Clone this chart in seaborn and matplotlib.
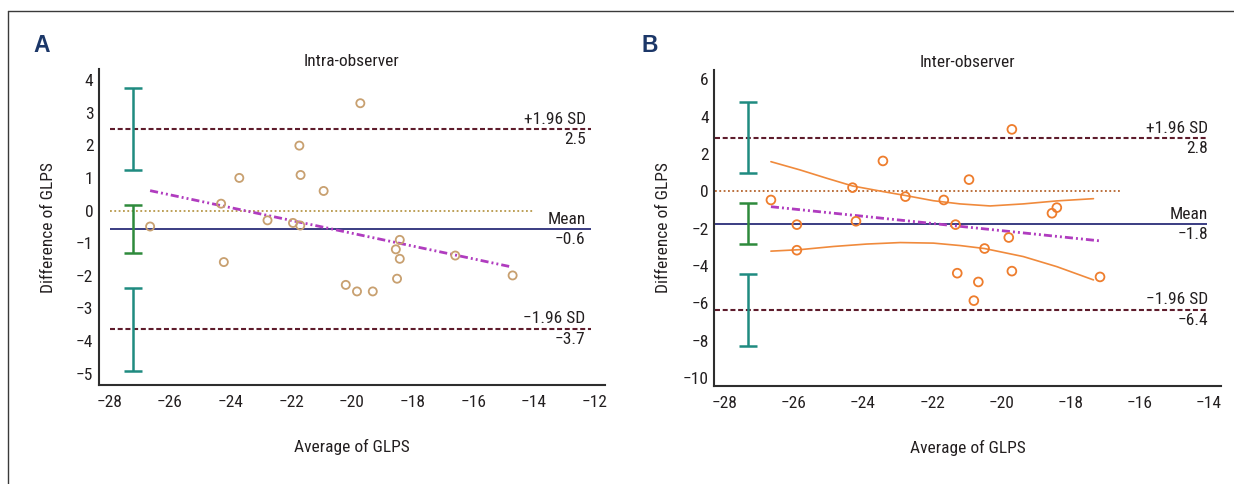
import matplotlib
matplotlib.use("Agg")
import matplotlib.pyplot as plt
import seaborn as sns
from matplotlib import font_manager as fm
from matplotlib.ticker import MultipleLocator
from matplotlib.lines import Line2D

# ---------------- data: panel A (intra-observer) ----------------
a_avg = [-26.65, -24.31, -23.71, -24.22, -22.78, -21.73, -21.69, -21.94, -21.70, -20.93,
         -20.20, -19.83, -19.72, -19.31, -18.42, -18.55, -18.42, -18.51, -16.59, -14.70]
a_diff = [-0.49, 0.21, 1.00, -1.58, -0.30, 1.99, 1.09, -0.38, -0.46, 0.60,
          -2.28, -2.48, 3.29, -2.48, -0.90, -1.19, -1.48, -2.09, -1.38, -1.99]
a_mean, a_upper, a_lower = -0.57, 2.49, -3.63
a_texts = ["+1.96 SD", "2.5", "Mean", "\u22120.6", "\u22121.96 SD", "\u22123.7"]
a_reg_x = [-26.65, -14.73]
a_reg_y = [0.61, -1.73]
a_ci_x = -27.2
a_ci_lo = [1.23, -1.29, -4.92]
a_ci_hi = [3.77, 0.17, -2.37]

# ---------------- data: panel B (inter-observer) ----------------
b_avg = [-26.66, -25.91, -25.91, -24.30, -24.20, -23.42, -22.77, -21.66, -21.32, -21.27,
         -20.93, -20.48, -20.66, -20.79, -19.78, -19.69, -19.69, -18.39, -18.53, -17.14]
b_diff = [-0.46, -1.78, -3.15, 0.20, -1.60, 1.63, -0.28, -0.46, -1.78, -4.38,
          0.63, -3.06, -4.85, -5.85, -2.47, -4.27, 3.32, -0.87, -1.17, -4.58]
b_mean, b_upper, b_lower = -1.76, 2.85, -6.35
b_texts = ["+1.96 SD", "2.8", "Mean", "\u22121.8", "\u22121.96 SD", "\u22126.4"]
b_reg_x = [-26.66, -17.14]
b_reg_y = [-0.82, -2.65]
b_cu_x = [-26.66, -25.82, -25.04, -24.30, -23.42, -22.77, -21.96, -21.19, -20.32, -19.36, -18.39, -17.33]
b_cu_y = [1.59, 1.15, 0.70, 0.29, -0.01, -0.22, -0.50, -0.67, -0.78, -0.67, -0.51, -0.39]
b_cl_x = [-26.66, -25.82, -24.85, -23.89, -22.92, -21.96, -21.19, -20.48, -19.36, -18.39, -17.33]
b_cl_y = [-3.20, -3.12, -2.95, -2.82, -2.74, -2.77, -2.90, -3.06, -3.49, -4.03, -4.74]
b_ci_x = -27.31
b_ci_lo = [1.00, -2.81, -8.27]
b_ci_hi = [4.80, -0.63, -4.45]

titles = ["Intra-observer", "Inter-observer"]
letters = ["A", "B"]
xlabel = "Average of GLPS"
ylabel = "Difference of GLPS"

# ---------------- fonts ----------------
sns.set_style("white")


def pick_font():
    cond = ("condensed", "semi-condensed", "extra-condensed", "ultra-condensed")
    prefs = ["Liberation Sans Narrow", "Roboto Condensed", "Open Sans Condensed",
             "Noto Sans", "DejaVu Sans", "Open Sans", "Roboto", "Lato", "Inter"]
    entries = fm.fontManager.ttflist
    for p in prefs:
        for e in entries:
            if e.name == p and (e.stretch in cond or "Narrow" in p or "Condensed" in p):
                return p, e.stretch, True
    return "Liberation Sans", "normal", False


fam, stretch, is_cond = pick_font()
plt.rcParams["font.family"] = [fam, "DejaVu Sans"]
plt.rcParams["font.stretch"] = stretch
fs = 12.5 if is_cond else 11
plt.rcParams["axes.unicode_minus"] = True

TXT = "#231f20"
AX = "#2e2e2e"

fig = plt.figure(figsize=(12.34, 4.84), dpi=100)
axA = fig.add_axes([0.0801, 0.2045, 0.4098, 0.6523])
axB = fig.add_axes([0.5788, 0.2025, 0.4104, 0.6529])

# figure frame (top and left edges)
fig.add_artist(Line2D([8 / 1234, 1.0], [1 - 11 / 484, 1 - 11 / 484], transform=fig.transFigure,
                      color="#3a3a3a", lw=1.0))
fig.add_artist(Line2D([8 / 1234, 8 / 1234], [0.0, 1 - 11 / 484], transform=fig.transFigure,
                      color="#3a3a3a", lw=1.0))

DASH_C = "#5e1c2c"
MEAN_C = "#2b2d78"
REG_C = "#b03cbf"
TEAL = "#1f8b80"
GREEN = "#2e8a3c"
REG_LS = (0, (2.9, 1.1, 0.7, 1.1, 0.7, 1.1))
DASH_LS = (0, (2.4, 1.3))
DOT_LS = (0, (1, 1.4))


def style_axes(ax, xlim, ylim, ymaj, ymin):
    ax.set_xlim(*xlim)
    ax.set_ylim(*ylim)
    ax.xaxis.set_major_locator(MultipleLocator(2))
    ax.xaxis.set_minor_locator(MultipleLocator(1))
    ax.yaxis.set_major_locator(MultipleLocator(ymaj))
    ax.yaxis.set_minor_locator(MultipleLocator(ymin))
    for s in ["top", "right"]:
        ax.spines[s].set_visible(False)
    for s in ["left", "bottom"]:
        ax.spines[s].set_linewidth(1.5)
        ax.spines[s].set_color(AX)
    ax.tick_params(which="major", direction="in", length=6.8, width=1.1, color=AX,
                   labelsize=fs, labelcolor=TXT)
    ax.tick_params(which="minor", direction="in", length=3.6, width=1.0, color=AX)
    ax.tick_params(axis="x", which="major", pad=7)
    ax.tick_params(axis="y", which="major", pad=4)
    ax.set_xlabel(xlabel, fontsize=fs, color=TXT, va="top")
    ax.set_ylabel(ylabel, fontsize=fs, color=TXT)
    ax.xaxis.set_label_coords(0.5, -0.172)
    ax.yaxis.set_label_coords(-0.085, 0.5)
    ax.set_facecolor("white")


def right_labels(ax, x, ys, texts):
    for y, (top, bot) in zip(ys, [(texts[0], texts[1]), (texts[2], texts[3]), (texts[4], texts[5])]):
        ax.annotate(top, (x, y), xytext=(0, 1.8), textcoords="offset points",
                    ha="right", va="bottom", fontsize=fs, color=TXT)
        ax.annotate(bot, (x, y), xytext=(0, -2.2), textcoords="offset points",
                    ha="right", va="top", fontsize=fs, color=TXT)


def ci_bars(ax, x, lo, hi):
    for l, h, c in zip(lo, hi, [TEAL, GREEN, TEAL]):
        ax.errorbar([x], [(l + h) / 2], yerr=[[(h - l) / 2], [(h - l) / 2]], fmt="none",
                    ecolor=c, elinewidth=1.8, capsize=6.5, capthick=1.8, zorder=3)


# ---------------- panel A ----------------
ax = axA
ax.hlines([a_upper, a_lower], -27.97, -12.12, colors=DASH_C, linestyles=DASH_LS, lw=1.5, zorder=2)
ax.hlines([a_mean], -27.97, -12.12, colors=MEAN_C, lw=1.3, zorder=2)
ax.hlines([0], -27.97, -14.0, colors="#b8984a", linestyles=DOT_LS, lw=1.3, zorder=2)
sns.lineplot(x=a_reg_x, y=a_reg_y, ax=ax, color=REG_C, lw=2.0, estimator=None,
             linestyle=REG_LS, zorder=4)
ci_bars(ax, a_ci_x, a_ci_lo, a_ci_hi)
sns.scatterplot(x=a_avg, y=a_diff, ax=ax, s=34, marker="o", color="#c8a070",
                facecolor="none", edgecolor="#c8a070", linewidth=1.3, zorder=5)
right_labels(ax, -12.29, [a_upper, a_mean, a_lower], a_texts)
style_axes(ax, (-28.34, -11.67), (-5.35, 4.33), 1, 0.5)

# ---------------- panel B ----------------
ax = axB
ax.hlines([b_upper, b_lower], -28.27, -14.05, colors=DASH_C, linestyles=DASH_LS, lw=1.5, zorder=2)
ax.hlines([b_mean], -28.27, -14.05, colors=MEAN_C, lw=1.3, zorder=2)
ax.hlines([0], -28.27, -16.56, colors="#b5652e", linestyles=DOT_LS, lw=1.3, zorder=2)
sns.lineplot(x=b_cu_x, y=b_cu_y, ax=ax, color="#f08a3c", lw=1.2, estimator=None, zorder=3)
sns.lineplot(x=b_cl_x, y=b_cl_y, ax=ax, color="#f08a3c", lw=1.2, estimator=None, zorder=3)
sns.lineplot(x=b_reg_x, y=b_reg_y, ax=ax, color=REG_C, lw=2.0, estimator=None,
             linestyle=REG_LS, zorder=4)
ci_bars(ax, b_ci_x, b_ci_lo, b_ci_hi)
sns.scatterplot(x=b_avg, y=b_diff, ax=ax, s=40, marker="o", color="#ee7d2d",
                facecolor="none", edgecolor="#ee7d2d", linewidth=1.3, zorder=5)
right_labels(ax, -14.01, [b_upper, b_mean, b_lower], b_texts)
style_axes(ax, (-28.3, -13.65), (-10.42, 6.5), 2, 1)

# titles and panel letters
for ax, t in zip([axA, axB], titles):
    ax.text(0.5, 1.0104, t, transform=ax.transAxes, ha="center", va="baseline",
            fontsize=fs, color=TXT)
for (x, y), L in zip([(42, 45), (650, 45)], letters):
    fig.text(x / 1234, 1 - y / 484, L, ha="center", va="center", fontsize=16.5,
             fontweight="bold", color="#1c3768", family=["Liberation Sans", "DejaVu Sans"],
             stretch="normal")

fig.savefig("out.png", dpi=100)
